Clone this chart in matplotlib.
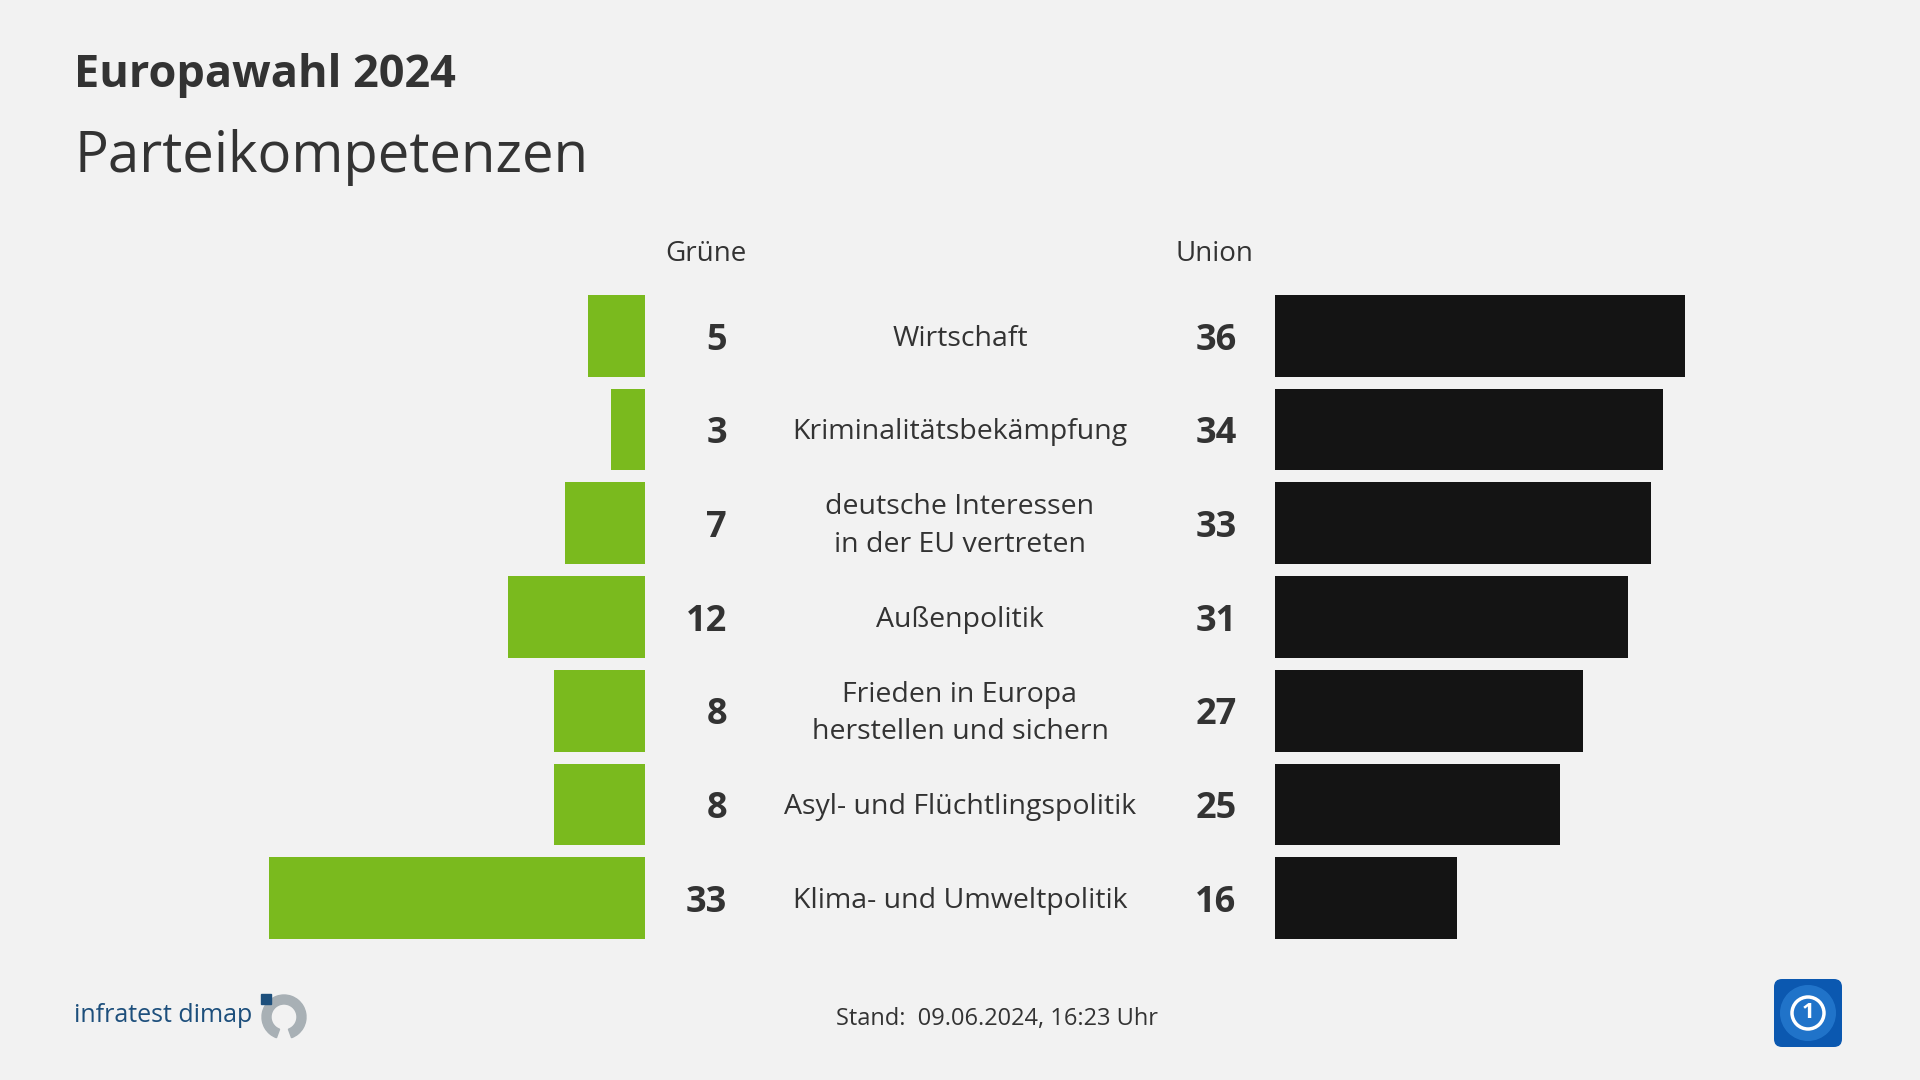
import numpy as np
import matplotlib.pyplot as plt
from matplotlib.transforms import blended_transform_factory
from matplotlib.patches import FancyBboxPatch, Wedge, Rectangle, Circle

plt.rcParams['font.family'] = ['Open Sans', 'DejaVu Sans']

# Daten
themen = ['Wirtschaft', 'Kriminalitätsbekämpfung', 'deutsche Interessen\nin der EU vertreten',
          'Außenpolitik', 'Frieden in Europa\nherstellen und sichern',
          'Asyl- und Flüchtlingspolitik', 'Klima- und Umweltpolitik']
gruene = [5, 3, 7, 12, 8, 8, 33]
union = [36, 34, 33, 31, 27, 25, 16]

BG = '#f2f2f2'
TXT = '#333333'
GREEN = '#7aba1e'
BLACK = '#141414'

W, H = 1920, 1080
fig = plt.figure(figsize=(19.2, 10.8), dpi=100, facecolor=BG)

# Achsen in Pixelkoordinaten
y_top, y_bot = 289, 945
scale = 11.4  # px pro Prozentpunkt
xmax = 40
ax_b = 1 - y_bot / H
ax_h = (y_bot - y_top) / H

left_w = xmax * scale
ax_l = fig.add_axes([(645 - left_w) / W, ax_b, left_w / W, ax_h])
ax_r = fig.add_axes([1275 / W, ax_b, left_w / W, ax_h])

pos = np.arange(len(themen))
for ax, vals, col in [(ax_l, gruene, GREEN), (ax_r, union, BLACK)]:
    ax.barh(pos, vals, height=0.873, color=col)
    ax.set_xlim(0, xmax)
    ax.set_ylim(len(themen) - 0.5, -0.5)
    ax.axis('off')
    ax.set_facecolor('none')
ax_l.invert_xaxis()

tr = blended_transform_factory(fig.transFigure, ax_l.transData)
for i in pos:
    ax_l.text(727 / W, i + 0.05, str(gruene[i]), transform=tr, ha='right', va='center',
              fontsize=26, fontweight='bold', color=TXT)
    ax_l.text(1216 / W, i + 0.05, str(union[i]), transform=tr, ha='center', va='center',
              fontsize=26, fontweight='bold', color=TXT)
    ax_l.text(960 / W, i + 0.03, themen[i], transform=tr, ha='center', va='center',
              fontsize=20.5, color=TXT, linespacing=1.45)

# Spaltenköpfe
fig.text(665 / W, 1 - 254 / H, 'Grüne', fontsize=20, color=TXT, ha='left', va='center')
fig.text(1176 / W, 1 - 254 / H, 'Union', fontsize=20, color=TXT, ha='left', va='center')

# Titel
fig.text(74 / W, 1 - 75 / H, 'Europawahl 2024', fontsize=32.5, fontweight='bold',
         color=TXT, ha='left', va='center')
fig.text(74 / W, 1 - 157 / H, 'Parteikompetenzen', fontsize=40.5, fontweight='normal',
         color=TXT, ha='left', va='center')

# Fußzeile
fig.text(997 / W, 1 - 1019 / H, 'Stand:  09.06.2024, 16:23 Uhr', fontsize=17,
         color=TXT, ha='center', va='center')

# infratest dimap Logo
fig.text(74 / W, 1 - 1015 / H, 'infratest dimap', fontsize=18, color='#1d4f7c',
         ha='left', va='center')
ax_logo = fig.add_axes([0, 0, 1, 1], facecolor='none')
ax_logo.set_xlim(0, W)
ax_logo.set_ylim(H, 0)
ax_logo.axis('off')
ax_logo.add_patch(Wedge((284, 1017), 22, -250, 70, width=9, color='#a8b0b5'))
ax_logo.add_patch(Rectangle((261, 994), 10, 10, color='#1d4f7c'))

# ARD Logo
ax_logo.add_patch(FancyBboxPatch((1774, 979), 68, 68, boxstyle='round,pad=0,rounding_size=8',
                                 facecolor='#0b58b0', edgecolor='none'))
ax_logo.add_patch(Circle((1808, 1013), 28, facecolor='#2a7fd4', edgecolor='none', alpha=0.7))
ax_logo.add_patch(Circle((1808, 1013), 16, facecolor='none', edgecolor='white', linewidth=2.5))
ax_logo.text(1808, 1013, '1', fontsize=16, fontweight='bold', color='white',
             ha='center', va='center')

fig.savefig('out.png', dpi=100, facecolor=BG)
